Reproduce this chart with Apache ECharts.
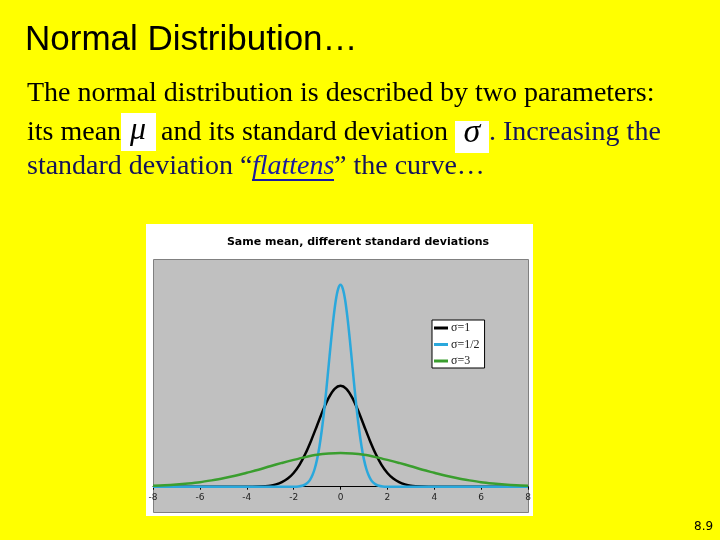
<!DOCTYPE html>
<html><head><meta charset="utf-8">
<script src="https://cdn.jsdelivr.net/npm/echarts@6/dist/echarts.min.js"></script>
<style>html,body{margin:0;padding:0;background:#ffff00;}#c{width:720px;height:540px;}</style>
</head><body><div id="c"></div>
<script>
// Data
var xTicks = [-8, -6, -4, -2, 0, 2, 4, 6, 8];
var seriesNames = ['σ=1', 'σ=1/2', 'σ=3'];

var xSigma1 = [-8, -4, -3.5, -3, -2.75, -2.5, -2.25, -2, -1.75, -1.5, -1.25, -1, -0.75, -0.5, -0.25, 0, 0.25, 0.5, 0.75, 1, 1.25, 1.5, 1.75, 2, 2.25, 2.5, 2.75, 3, 3.5, 4, 8];
var ySigma1 = [0, 0, 0.001, 0.004, 0.009, 0.018, 0.032, 0.054, 0.086, 0.130, 0.183, 0.242, 0.301, 0.352, 0.387, 0.399, 0.387, 0.352, 0.301, 0.242, 0.183, 0.130, 0.086, 0.054, 0.032, 0.018, 0.009, 0.004, 0.001, 0, 0];

var xSigmaHalf = [-8, -2, -1.8, -1.6, -1.5, -1.4, -1.3, -1.2, -1.1, -1.0, -0.9, -0.8, -0.7, -0.6, -0.5, -0.4, -0.3, -0.2, -0.1, 0, 0.1, 0.2, 0.3, 0.4, 0.5, 0.6, 0.7, 0.8, 0.9, 1.0, 1.1, 1.2, 1.3, 1.4, 1.5, 1.6, 1.8, 2, 8];
var ySigmaHalf = [0, 0, 0.001, 0.005, 0.009, 0.016, 0.027, 0.045, 0.071, 0.108, 0.158, 0.222, 0.299, 0.388, 0.484, 0.579, 0.666, 0.737, 0.782, 0.798, 0.782, 0.737, 0.666, 0.579, 0.484, 0.388, 0.299, 0.222, 0.158, 0.108, 0.071, 0.045, 0.027, 0.016, 0.009, 0.005, 0.001, 0, 0];

var xSigma3 = [-8, -7.5, -7, -6.5, -6, -5.5, -5, -4.5, -4, -3.5, -3, -2.5, -2, -1.5, -1, -0.5, 0, 0.5, 1, 1.5, 2, 2.5, 3, 3.5, 4, 4.5, 5, 5.5, 6, 6.5, 7, 7.5, 8];
var ySigma3 = [0.004, 0.006, 0.009, 0.013, 0.018, 0.025, 0.033, 0.043, 0.055, 0.067, 0.081, 0.094, 0.106, 0.117, 0.126, 0.131, 0.133, 0.131, 0.126, 0.117, 0.106, 0.094, 0.081, 0.067, 0.055, 0.043, 0.033, 0.025, 0.018, 0.013, 0.009, 0.006, 0.004];

function pairs(xs, ys) { return xs.map(function (x, i) { return [x, ys[i]]; }); }

var colors = ['#000000', '#2aa8dc', '#3a9e2e'];
var serif = '"Liberation Serif", "DejaVu Serif", serif';
var sans = '"DejaVu Sans", "Liberation Sans", sans-serif';
var bodyFont = '28px ' + serif;

var chart = echarts.init(document.getElementById('c'), null, { renderer: 'canvas' });
chart.setOption({
  backgroundColor: '#ffff00',
  animation: false,
  color: colors,
  title: {
    text: 'Same mean, different standard deviations',
    left: 353, top: 232, textAlign: 'center',
    textStyle: { fontFamily: sans, fontSize: 11, fontWeight: 'bold', color: '#000' }
  },
  legend: {
    data: seriesNames,
    orient: 'vertical',
    left: 432, top: 320,
    backgroundColor: '#ffffff', borderColor: '#000', borderWidth: 1,
    padding: [2, 5, 1, 2],
    itemGap: 4.5, itemWidth: 14, itemHeight: 3, icon: 'rect',
    textStyle: { fontFamily: serif, fontSize: 12, lineHeight: 12, color: '#222', padding: [0, 0, 0, -2] }
  },
  grid: {
    left: 153, top: 259, width: 375, height: 227.7,
    show: false,
    containLabel: false
  },
  xAxis: {
    type: 'value', min: -8, max: 8, interval: 2,
    axisLine: { onZero: false, lineStyle: { color: '#000', width: 1 } },
    axisTick: { show: true, length: 3, lineStyle: { color: '#000' } },
    axisLabel: { fontFamily: sans, fontSize: 9, color: '#222', margin: 6 },
    splitLine: { show: false }
  },
  yAxis: {
    type: 'value', min: 0, max: 0.9, show: false,
    splitLine: { show: false }
  },
  series: [
    { name: seriesNames[0], type: 'line', data: pairs(xSigma1, ySigma1), smooth: 0.3, clip: false, showSymbol: false, lineStyle: { width: 2.5, color: colors[0] } },
    { name: seriesNames[1], type: 'line', data: pairs(xSigmaHalf, ySigmaHalf), smooth: 0.3, clip: false, showSymbol: false, lineStyle: { width: 2.5, color: colors[1] } },
    { name: seriesNames[2], type: 'line', data: pairs(xSigma3, ySigma3), smooth: 0.3, clip: false, showSymbol: false, lineStyle: { width: 2.5, color: colors[2] } }
  ],
  graphic: [
    { type: 'rect', z: -10, shape: { x: 146, y: 224, width: 387, height: 292 }, style: { fill: '#ffffff' } },
    { type: 'rect', z: -9, shape: { x: 153.5, y: 259.5, width: 375, height: 253 }, style: { fill: '#c0c0c0', stroke: '#808080', lineWidth: 1 } },
    { type: 'text', left: 25, top: 23, style: { text: 'Normal Distribution…', font: '35px "Liberation Sans", sans-serif', fill: '#000' } },
    { type: 'text', left: 27, top: 80, style: { text: 'The normal distribution is described by two parameters:', font: bodyFont, fill: '#000' } },
    { type: 'text', left: 27, top: 119, style: { text: 'its mean', font: bodyFont, fill: '#000' } },
    { type: 'rect', shape: { x: 121, y: 113, width: 35, height: 38 }, style: { fill: '#ffffff' } },
    { type: 'text', style: { x: 138, y: 131, align: 'center', verticalAlign: 'middle', text: 'μ', font: 'italic 32px ' + serif, fill: '#000' } },
    { type: 'text', left: 161, top: 119, style: { text: 'and its standard deviation', font: bodyFont, fill: '#000' } },
    { type: 'rect', shape: { x: 455, y: 121, width: 34, height: 32 }, style: { fill: '#ffffff' } },
    { type: 'text', style: { x: 472, y: 133, align: 'center', verticalAlign: 'middle', text: 'σ', font: 'italic 34px ' + serif, fill: '#000' } },
    { type: 'text', left: 489, top: 119, style: { text: '. Increasing the', font: bodyFont, fill: '#14145a' } },
    { type: 'text', left: 27, top: 153, style: { text: 'standard deviation “', font: bodyFont, fill: '#14145a' } },
    { type: 'text', left: 252, top: 153, style: { text: 'flattens', font: 'italic ' + bodyFont, fill: '#1a1aa0' } },
    { type: 'line', shape: { x1: 252, y1: 180, x2: 334, y2: 180 }, style: { stroke: '#1a1aa0', lineWidth: 2 } },
    { type: 'text', left: 334, top: 153, style: { text: '” the curve…', font: bodyFont, fill: '#14145a' } },
    { type: 'text', left: 694, top: 521, style: { text: '8.9', font: '12px "DejaVu Sans", sans-serif', fill: '#000' } }
  ]
});
</script>
</body></html>
